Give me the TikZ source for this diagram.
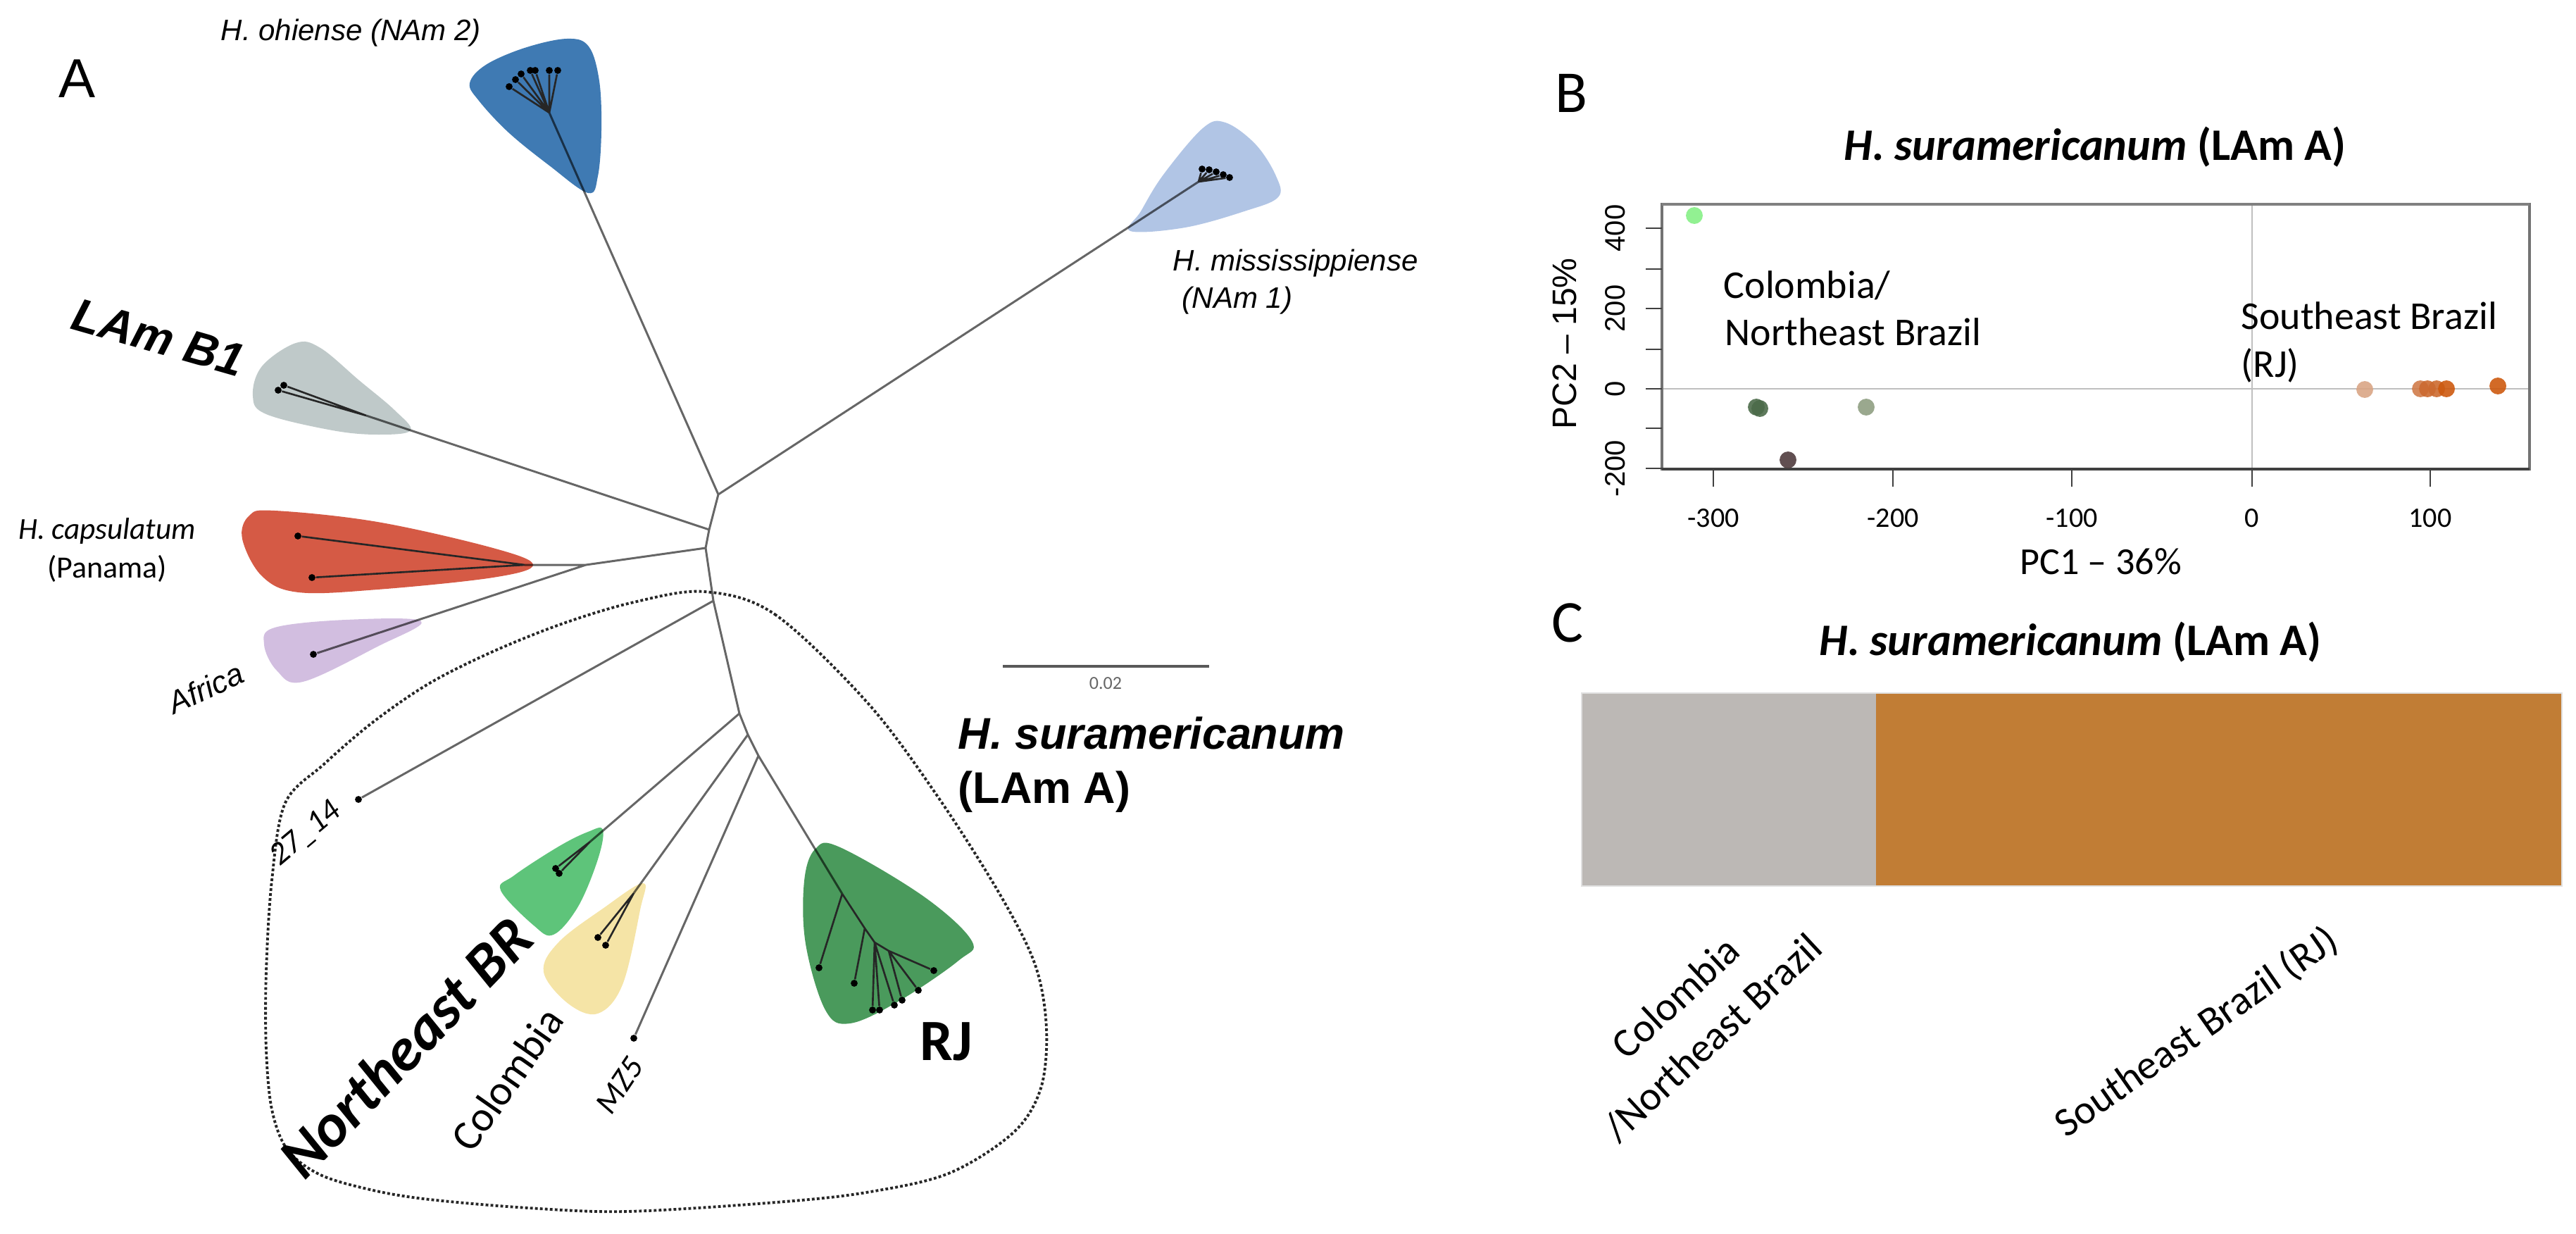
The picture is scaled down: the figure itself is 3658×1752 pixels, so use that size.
\documentclass[tikz,border=0pt]{standalone}
\usepackage{fontspec}
\setmainfont{Liberation Sans}
\newfontfamily\calfont{Carlito}
\usetikzlibrary{calc}
\definecolor{cNAmtwo}{HTML}{3F7AB3}
\definecolor{cNAmone}{HTML}{B1C5E5}
\definecolor{cLAmB}{HTML}{BFC9C9}
\definecolor{cCaps}{HTML}{D55A45}
\definecolor{cAfr}{HTML}{D2BEE0}
\definecolor{cNEB}{HTML}{5EC47A}
\definecolor{cCol}{HTML}{F5E4A6}
\definecolor{cRJ}{HTML}{4A9A5C}
\definecolor{cBarGray}{HTML}{BCB8B5}
\definecolor{cBarOr}{HTML}{C17D35}
\definecolor{pLightG}{HTML}{86F086}
\definecolor{pDarkG}{HTML}{4C6B4A}
\definecolor{pGrayG}{HTML}{8F9E82}
\definecolor{pBrown}{HTML}{503C3E}
\definecolor{pTan}{HTML}{D9A585}
\definecolor{pOr}{HTML}{CC6A30}
\definecolor{pOrD}{HTML}{CD5A10}
\begin{document}
\begin{tikzpicture}[x=0.01cm,y=-0.01cm,
  br/.style={line width=0.85pt, draw=black, draw opacity=0.6},
  cl/.style={line width=0.75pt, draw=black!85},
  tip/.style={circle, fill=black, inner sep=0pt, minimum size=2.8pt},
  blob/.style={smooth cycle, tension=0.6},
  pt/.style={circle, inner sep=0pt, minimum size=6.8pt, fill opacity=0.9},
  lab/.style={inner sep=0pt},
]
\useasboundingbox (0,0) rectangle (3658,1752);

% ---------------- Panel A: blobs ----------------
\fill[cNAmtwo] plot[blob] coordinates {(835,274) (780,235) (722,188) (680,143) (667,118) (690,92) (745,68) (805,55) (836,66) (851,115) (854,185) (849,250)};
\fill[cNAmone] plot[blob] coordinates {(1605,328) (1683,323) (1767,300) (1815,280) (1812,250) (1783,205) (1740,174) (1708,182) (1652,248) (1620,300)};
\fill[cLAmB] plot[blob] coordinates {(583,611) (537,617) (472,611) (378,588) (359,562) (372,520) (420,487) (455,494) (510,540) (560,582)};
\fill[cCaps] plot[blob] coordinates {(757,802) (700,820) (536,837) (424,841) (372,818) (344,765) (354,732) (390,725) (536,741) (700,778)};
\fill[cAfr] plot[blob] coordinates {(598,882) (536,918) (430,968) (393,952) (375,915) (390,891) (491,880)};
\fill[cNEB] plot[blob] coordinates {(856,1178) (849,1220) (821,1287) (786,1327) (758,1314) (711,1264) (730,1243) (793,1202) (835,1181)};
\fill[cCol] plot[blob] coordinates {(913,1254) (909,1292) (884,1398) (849,1439) (807,1425) (772,1380) (793,1338) (856,1290)};
\fill[cRJ] plot[blob] coordinates {(1158,1205) (1193,1203) (1312,1273) (1380,1336) (1361,1364) (1277,1421) (1207,1453) (1172,1434) (1144,1340) (1142,1251)};

% ---------------- tree coordinates ----------------
\coordinate (N1) at (1020,702);
\coordinate (N2) at (1007,752);
\coordinate (N3) at (1002,778);
\coordinate (N4) at (1013,853);
\coordinate (N5) at (1050,1013);
\coordinate (N6) at (1062,1043);
\coordinate (N7) at (1077,1073);
\coordinate (AfJ) at (832,802);
\coordinate (CapJ) at (745,802);
\coordinate (LBn) at (520,590);
\coordinate (NAmtwon) at (780,160);
\coordinate (NAmonen) at (1702,258);
\coordinate (NEn) at (838,1195);
\coordinate (COn) at (900,1268);
\coordinate (Ra) at (1196,1269);
\coordinate (Rb) at (1228,1318);
\coordinate (Rc) at (1242,1338);
\coordinate (Rd) at (1262,1350);

% tips
\node[tip] (t21) at (723,123) {};
\node[tip] (t22) at (732,113) {};
\node[tip] (t23) at (740,105) {};
\node[tip] (t24) at (753,100) {};
\node[tip] (t25) at (760,100) {};
\node[tip] (t26) at (780,100) {};
\node[tip] (t27) at (792,100) {};
\node[tip] (t11) at (1707,240) {};
\node[tip] (t12) at (1717,241) {};
\node[tip] (t13) at (1727,244) {};
\node[tip] (t14) at (1737,248) {};
\node[tip] (t15) at (1746,252) {};
\node[tip] (tb1) at (403,547) {};
\node[tip] (tb2) at (395,554) {};
\node[tip] (tc1) at (423,761) {};
\node[tip] (tc2) at (443,820) {};
\node[tip] (ta) at (445,929) {};
\node[tip] (tx) at (509,1135) {};
\node[tip] (tn1) at (789,1233) {};
\node[tip] (tn2) at (794,1240) {};
\node[tip] (tk1) at (849,1331) {};
\node[tip] (tk2) at (860,1342) {};
\node[tip] (tm) at (900,1474) {};
\node[tip] (r1) at (1163,1374) {};
\node[tip] (r2) at (1213,1396) {};
\node[tip] (r3) at (1239,1434) {};
\node[tip] (r4) at (1249,1434) {};
\node[tip] (r5) at (1270,1427) {};
\node[tip] (r6) at (1281,1420) {};
\node[tip] (r7) at (1304,1406) {};
\node[tip] (r8) at (1326,1378) {};

% main branches
\draw[br] (N1) -- (NAmtwon) (N1) -- (NAmonen) (N1) -- (N2)
  (N2) -- (LBn) (N2) -- (N3) (N3) -- (AfJ) (AfJ) -- (CapJ) (AfJ) -- (ta)
  (N3) -- (N4) (N4) -- (tx) (N4) -- (N5) (N5) -- (NEn) (N5) -- (N6)
  (N6) -- (COn) (N6) -- (N7) (N7) -- (tm) (N7) -- (Ra);
% clade lines
\draw[cl] (NAmtwon) -- (t21) (NAmtwon) -- (t22) (NAmtwon) -- (t23) (NAmtwon) -- (t24)
  (NAmtwon) -- (t25) (NAmtwon) -- (t26) (NAmtwon) -- (t27);
\draw[cl] (NAmonen) -- (t11) (NAmonen) -- (t12) (NAmonen) -- (t13) (NAmonen) -- (t14) (NAmonen) -- (t15);
\draw[cl] (LBn) -- (tb1) (LBn) -- (tb2);
\draw[cl] (CapJ) -- (tc1) (CapJ) -- (tc2);
\draw[cl] (NEn) -- (tn1) (NEn) -- (tn2);
\draw[cl] (COn) -- (tk1) (COn) -- (tk2);
\draw[cl] (Ra) -- (r1) (Ra) -- (Rb) (Rb) -- (r2) (Rb) -- (Rc) (Rc) -- (r3) (Rc) -- (r4)
  (Rc) -- (r5) (Rc) -- (Rd) (Rd) -- (r6) (Rd) -- (r7) (Rd) -- (r8);

% dotted outline of H. suramericanum
\draw[line width=1.1pt, dash pattern=on 1.1pt off 0.9pt, black!85]
  plot[smooth cycle, tension=0.55] coordinates {(1000,840) (1100,872) (1233,999) (1333,1133) (1420,1270)
  (1470,1370) (1486,1460) (1478,1545) (1439,1608) (1347,1666) (1230,1693) (1102,1707) (891,1720)
  (750,1715) (610,1703) (530,1690) (455,1668) (408,1632) (386,1575) (378,1490) (378,1380) (386,1250)
  (405,1140) (460,1085) (530,1025) (610,970) (700,925) (800,885) (900,855)};

% scale bar
\coordinate (sbA) at (1424,946);
\coordinate (sbB) at (1717,946);
\draw[line width=1.1pt, black!65] (sbA) -- (sbB);
\node[lab, text=black!60, font=\calfont\fontsize{7.4}{9}\selectfont] (sbl) at (1570,970) {0.02};

% Panel A labels
\node[lab, anchor=base, font=\fontsize{22.2}{26}\selectfont] (lA) at (110,139) {A};
\node[lab, anchor=base west, font=\itshape\fontsize{11.95}{14}\selectfont] (lohi) at (313,58) {H. ohiense (NAm 2)};
\node[lab, anchor=base west, font=\itshape\fontsize{11.95}{14}\selectfont] (lmis) at (1665,385) {H. mississippiense};
\node[lab, anchor=base west, font=\itshape\fontsize{11.95}{14}\selectfont] (lmis2) at (1678,437) {(NAm 1)};
\node[lab, rotate=-16, font=\bfseries\itshape\fontsize{18.8}{22}\selectfont] (llamb) at (225,479) {LAm B1};
\node[lab, anchor=base, font=\calfont\itshape\fontsize{12.3}{14}\selectfont] (lcaps) at (152,765) {H. capsulatum};
\node[lab, anchor=base, font=\calfont\fontsize{12.5}{14}\selectfont] (lpan) at (152,820) {(Panama)};
\node[lab, rotate=25, font=\itshape\fontsize{12.5}{14}\selectfont] (lafr) at (292,977) {Africa};
\node[lab, rotate=40, font=\calfont\itshape\fontsize{13.1}{15}\selectfont] (lx) at (434,1184) {27\_14};
\node[lab, rotate=46, font=\calfont\bfseries\itshape\fontsize{24.5}{28}\selectfont] (lneb) at (576,1486) {Northeast BR};
\node[lab, rotate=55, font=\calfont\fontsize{17.1}{20}\selectfont] (lcol) at (720,1532) {Colombia};
\node[lab, rotate=56, font=\calfont\itshape\fontsize{13.1}{15}\selectfont] (lmz) at (880,1541) {MZ5};
\node[lab, font=\calfont\bfseries\fontsize{23.6}{27}\selectfont] (lrj) at (1344,1479) {RJ};
\node[lab, anchor=base west, font=\bfseries\itshape\fontsize{17.9}{21}\selectfont] (lsur) at (1360,1063) {H. suramericanum};
\node[lab, anchor=base west, font=\bfseries\fontsize{17.9}{21}\selectfont] (lsur2) at (1360,1140) {(LAm A)};

% ---------------- Panel B ----------------
\node[lab, anchor=base, font=\calfont\fontsize{24}{28}\selectfont] (lB) at (2231,160) {B};
\node[lab, anchor=base, font=\calfont\fontsize{18.2}{21}\selectfont] (tB) at (2975,228) {\bfseries\itshape H. suramericanum \upshape(LAm A)};
\coordinate (bxA) at (2360,290);
\coordinate (bxB) at (3592,666);
\draw[line width=0.5pt, black!25] (3198,290) -- (3198,666);
\draw[line width=0.5pt, black!25] (2360,552) -- (3592,552);
\draw[line width=1pt, black!55] (bxA) rectangle (bxB);
\draw[line width=1.4pt, black!50] (2360,290) -- (3592,290);
\draw[line width=1pt, black!75] (2360,666) -- (3592,666);
% x ticks
\foreach \xv/\xl in {2433/-300,2688/-200,2942/-100,3198/0,3451/100}{
  \draw[line width=0.6pt, black!75] (\xv,666) -- (\xv,691);
  \node[lab, anchor=base, font=\calfont\fontsize{11.4}{13}\selectfont] at (\xv,748) {\xl};
}
% y ticks
\foreach \yv in {324,382,438,496,552,608,665}{
  \draw[line width=0.6pt, black!75] (2337,\yv) -- (2360,\yv);
}
\foreach \yv/\yl in {324/400,438/200,552/0,665/-200}{
  \node[lab, rotate=90, font=\fontsize{11.4}{13}\selectfont] at (2294,\yv) {\yl};
}
\node[lab, rotate=90, font=\fontsize{13.7}{16}\selectfont] (ylab) at (2222,488) {PC2 – 15\%};
\node[lab, anchor=base, font=\calfont\fontsize{15.4}{18}\selectfont] (xlab) at (2983,815) {PC1 – 36\%};
\node[lab, anchor=base west, font=\calfont\fontsize{15.9}{19}\selectfont] (bcol) at (2447,424) {Colombia/};
\node[lab, anchor=base west, font=\calfont\fontsize{15.9}{19}\selectfont] (bne) at (2449,491) {Northeast Brazil};
\node[lab, anchor=base west, font=\calfont\fontsize{15.9}{19}\selectfont] (bse) at (3182,468) {Southeast Brazil};
\node[lab, anchor=base west, font=\calfont\fontsize{15.9}{19}\selectfont] (brj) at (3182,535) {(RJ)};
% points
\node[pt, fill=pLightG] (p1) at (2406,306) {};
\node[pt, fill=pDarkG] (p2) at (2494,578) {};
\node[pt, fill=pDarkG] (p3) at (2499,580) {};
\node[pt, fill=pGrayG] (p4) at (2650,578) {};
\node[pt, fill=pBrown] (p5) at (2539,653) {};
\node[pt, fill=pTan] (p6) at (3358,553) {};
\node[pt, fill=pOr!70!pTan] (p7) at (3437,552) {};
\node[pt, fill=pOr] (p8) at (3447,552) {};
\node[pt, fill=pOr] (p9) at (3460,552) {};
\node[pt, fill=pOrD] (p10) at (3474,552) {};
\node[pt, fill=pOrD] (p11) at (3547,548) {};

% ---------------- Panel C ----------------
\node[lab, anchor=base, font=\calfont\fontsize{24}{28}\selectfont] (lC) at (2226,911) {C};
\node[lab, anchor=base, font=\calfont\fontsize{18.2}{21}\selectfont] (tC) at (2940,930) {\bfseries\itshape H. suramericanum \upshape(LAm A)};
\fill[cBarGray] (2246,984) rectangle (2664,1258);
\fill[cBarOr] (2664,984) rectangle (3638,1258);
\draw[line width=0.6pt, black!12] (2246,984) rectangle (3638,1258);
\node[lab, rotate=43, align=center, font=\calfont\fontsize{16.5}{21.9}\selectfont] (ccol) at (2406,1445) {Colombia\\/Northeast Brazil};
\node[lab, rotate=35, font=\calfont\fontsize{16.5}{19}\selectfont] (cse) at (3119,1466) {Southeast Brazil (RJ)};
\end{tikzpicture}
\end{document}
